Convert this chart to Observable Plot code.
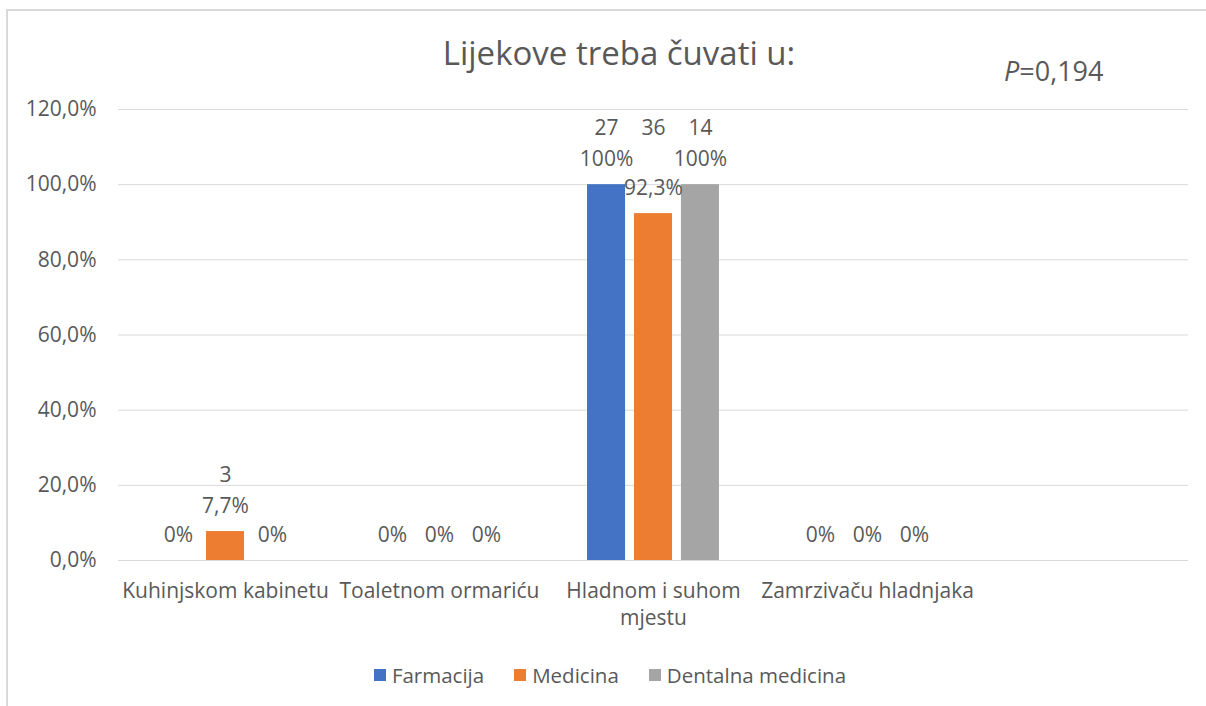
<!DOCTYPE html>
<html>
<head>
<meta charset="utf-8">
<script src="https://cdn.jsdelivr.net/npm/d3@7"></script>
<script src="https://cdn.jsdelivr.net/npm/@observablehq/plot@0.6"></script>
<style>
  html, body { margin: 0; padding: 0; background: #fff; }
  body { width: 1206px; height: 706px; position: relative; overflow: hidden; font-family: "Open Sans", sans-serif; color: #595959; }
  #frame { position: absolute; left: 6px; top: 9px; width: 1200px; height: 697px; border-top: 2px solid #d9d9d9; border-left: 2px solid #d9d9d9; box-sizing: border-box; }
  #title { position: absolute; left: 0; width: 1238px; top: 31px; text-align: center; font-size: 33px; line-height: 44px; }
  #pval { position: absolute; left: 1004px; top: 53px; font-size: 27px; line-height: 36px; }
  #chart { position: absolute; left: 0; top: 90px; }
  #legend { position: absolute; left: 0; top: 660px; width: 1220px; display: flex; justify-content: center; font-size: 20.5px; line-height: 30px; }
  .item { display: flex; align-items: center; margin: 0 15px; }
  .sw { width: 12px; height: 12px; margin-right: 6px; }
</style>
</head>
<body>
<div id="frame"></div>
<div id="title">Lijekove treba čuvati u:</div>
<div id="pval"><i>P</i>=0,194</div>
<div id="chart"></div>
<div id="legend"></div>
<script>
const categories = ["Kuhinjskom kabinetu", "Toaletnom ormariću", "Hladnom i suhom mjestu", "Zamrzivaču hladnjaka", ""];
const tickLabels = ["Kuhinjskom kabinetu", "Toaletnom ormariću", "Hladnom i suhom\nmjestu", "Zamrzivaču hladnjaka", ""];
const series = ["Farmacija", "Medicina", "Dentalna medicina"];
const farmacija = [0, 0, 100, 0, null];
const medicina = [7.7, 0, 92.3, 0, null];
const dentalna = [0, 0, 100, 0, null];
const farmacijaN = [null, null, 27, null, null];
const medicinaN = [3, null, 36, null, null];
const dentalnaN = [null, null, 14, null, null];
const colors = ["#4472c4", "#ed7d31", "#a5a5a5"];
const yTicks = [0, 20, 40, 60, 80, 100, 120];

const valuesBySeries = [farmacija, medicina, dentalna];
const countsBySeries = [farmacijaN, medicinaN, dentalnaN];

const rows = [];
categories.forEach((cat, i) => {
  const top = d3.max(valuesBySeries, v => v[i]);
  series.forEach((s, j) => {
    rows.push({cat, series: s, value: valuesBySeries[j][i], n: countsBySeries[j][i], top});
  });
});
const valued = rows.filter(d => d.value != null);
const counted = rows.filter(d => d.n != null);
const labelRows = categories.map((c, i) => ({cat: c, label: tickLabels[i]}));

const pct = v => String(Math.round(v * 10) / 10).replace(".", ",") + "%";
const txt = "#595959";

const plot = Plot.plot({
  width: 1206,
  height: 550,
  marginTop: 19,
  marginBottom: 80,
  marginLeft: 118,
  marginRight: 18,
  style: {fontFamily: "Open Sans", fontSize: "21px", color: txt, background: "transparent"},
  fx: {domain: categories, padding: 0, axis: null, label: null, round: false},
  x: {domain: series, paddingInner: 0.19, paddingOuter: 0.874, axis: null, round: false},
  y: {domain: [0, 120], ticks: yTicks, tickFormat: d => d.toFixed(1).replace(".", ",") + "%", tickSize: 0, tickPadding: 22, label: null},
  color: {domain: series, range: colors},
  marks: [
    Plot.ruleY(yTicks, {stroke: "#d9d9d9", strokeWidth: 1}),
    Plot.barY(valued, {fx: "cat", x: "series", y: "value", fill: "series"}),
    Plot.text(valued, {fx: "cat", x: "series", y: "value", text: d => pct(d.value), dy: -25, fill: txt, fontSize: 21}),
    Plot.text(counted, {fx: "cat", x: "series", y: "top", text: d => String(d.n), dy: -56, fill: txt, fontSize: 21}),
    Plot.text(labelRows, {fx: "cat", text: "label", frameAnchor: "bottom", lineAnchor: "top", dy: 18, lineHeight: 1.3, fill: txt, fontSize: 21})
  ]
});
document.getElementById("chart").appendChild(plot);

const legend = document.getElementById("legend");
series.forEach((s, i) => {
  const item = document.createElement("div");
  item.className = "item";
  const sw = document.createElement("div");
  sw.className = "sw";
  sw.style.background = colors[i];
  const lab = document.createElement("span");
  lab.textContent = s;
  item.appendChild(sw);
  item.appendChild(lab);
  legend.appendChild(item);
});
</script>
</body>
</html>
